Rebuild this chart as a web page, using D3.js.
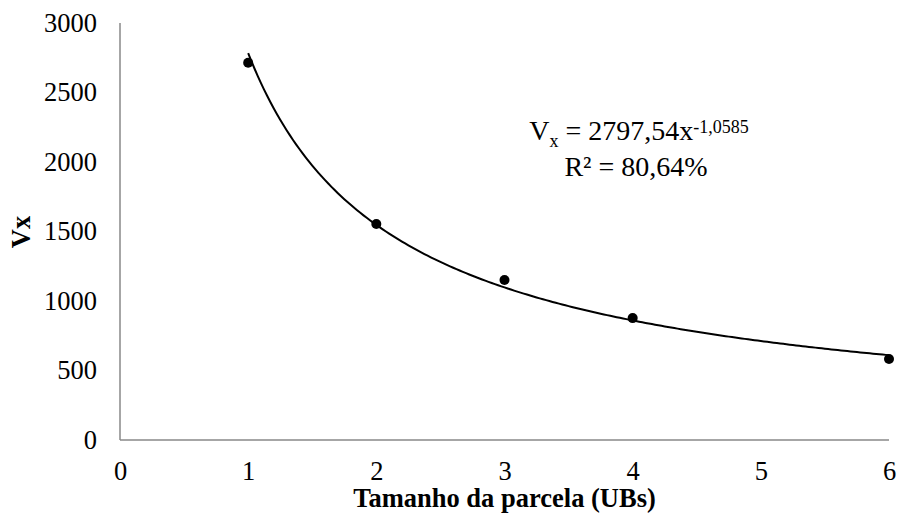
<!DOCTYPE html>
<html>
<head>
<meta charset="utf-8">
<script src="https://cdn.jsdelivr.net/npm/d3@7"></script>
<style>
  body { margin: 0; background: #fff; }
  .axis path { stroke: #898989; stroke-width: 1.5; }
  .axis line { display: none; }
</style>
</head>
<body>
<svg class="chart" width="900" height="524"></svg>
<script>
const sizes = [1, 2, 3, 4, 6];
const vxValues = [2714, 1554, 1151, 877, 583];
const xTicks = [0, 1, 2, 3, 4, 5, 6];
const yTicks = [0, 500, 1000, 1500, 2000, 2500, 3000];
const eqLabel = "2797,54x";
const eqExp = "-1,0585";
const r2Label = "R² = 80,64%";

const margin = { top: 23, right: 11, bottom: 84, left: 120 };
const width = 900 - margin.left - margin.right;
const height = 524 - margin.top - margin.bottom;

const svg = d3.select("svg.chart")
  .append("g")
  .attr("transform", "translate(" + margin.left + "," + margin.top + ")");

const x = d3.scaleLinear().domain([0, 6]).range([0, width]);
const y = d3.scaleLinear().domain([0, 3000]).range([height, 0]);

svg.append("g")
  .attr("class", "axis")
  .call(d3.axisLeft(y).tickValues(yTicks).tickSize(0).tickPadding(23).tickFormat(d3.format("d")))
  .call(g => g.select(".domain").attr("d", "M0," + height + "V0"));

svg.append("g")
  .attr("class", "axis")
  .attr("transform", "translate(0," + height + ")")
  .call(d3.axisBottom(x).tickValues(xTicks).tickSize(0).tickPadding(21).tickFormat(d3.format("d")))
  .call(g => g.select(".domain").attr("d", "M0,0H" + width));

// power trend line, least squares on log-log of the points
const lx = sizes.map(Math.log), ly = vxValues.map(Math.log);
const mx = d3.mean(lx), my = d3.mean(ly);
const b = d3.sum(lx, (v, i) => (v - mx) * (ly[i] - my)) / d3.sum(lx, v => (v - mx) * (v - mx));
const a = Math.exp(my - b * mx);

const fitPts = d3.range(0, 201).map(i => {
  const xv = 1 + i * 5 / 200;
  return [xv, a * Math.pow(xv, b)];
});

svg.append("path")
  .datum(fitPts)
  .attr("fill", "none")
  .attr("stroke", "#000")
  .attr("stroke-width", 2)
  .attr("d", d3.line().x(d => x(d[0])).y(d => y(d[1])));

svg.selectAll("circle.dot")
  .data(sizes.map((s, i) => ({ s: s, v: vxValues[i] })))
  .enter().append("circle")
  .attr("class", "dot")
  .attr("cx", d => x(d.s))
  .attr("cy", d => y(d.v))
  .attr("r", 5)
  .attr("fill", "#000");

// equation
const eq = svg.append("text")
  .attr("x", 519)
  .attr("y", 117)
  .style("text-anchor", "middle")
  .style("font-size", "28px");
eq.append("tspan").text("V");
eq.append("tspan").attr("dy", 7).style("font-size", "18px").text("x");
eq.append("tspan").attr("dy", -7).text(" = " + eqLabel);
eq.append("tspan").attr("dy", -7).style("font-size", "18px").text(eqExp);

svg.append("text")
  .attr("x", 516)
  .attr("y", 153)
  .style("text-anchor", "middle")
  .style("font-size", "28px")
  .text(r2Label);

svg.append("text")
  .attr("transform", "rotate(-90)")
  .attr("x", -209)
  .attr("y", -90)
  .style("text-anchor", "middle")
  .style("font-size", "26.5px")
  .style("font-weight", "bold")
  .text("Vx");

svg.append("text")
  .attr("x", width / 2)
  .attr("y", height + 67)
  .style("text-anchor", "middle")
  .style("font-size", "26.5px")
  .style("font-weight", "bold")
  .text("Tamanho da parcela (UBs)");

// Times-like font everywhere
d3.selectAll("svg.chart text")
  .style("font-family", "'Liberation Serif', 'Times New Roman', serif")
  .style("fill", "#000");
d3.selectAll(".axis .tick text").style("font-size", "26.5px");
</script>
</body>
</html>
